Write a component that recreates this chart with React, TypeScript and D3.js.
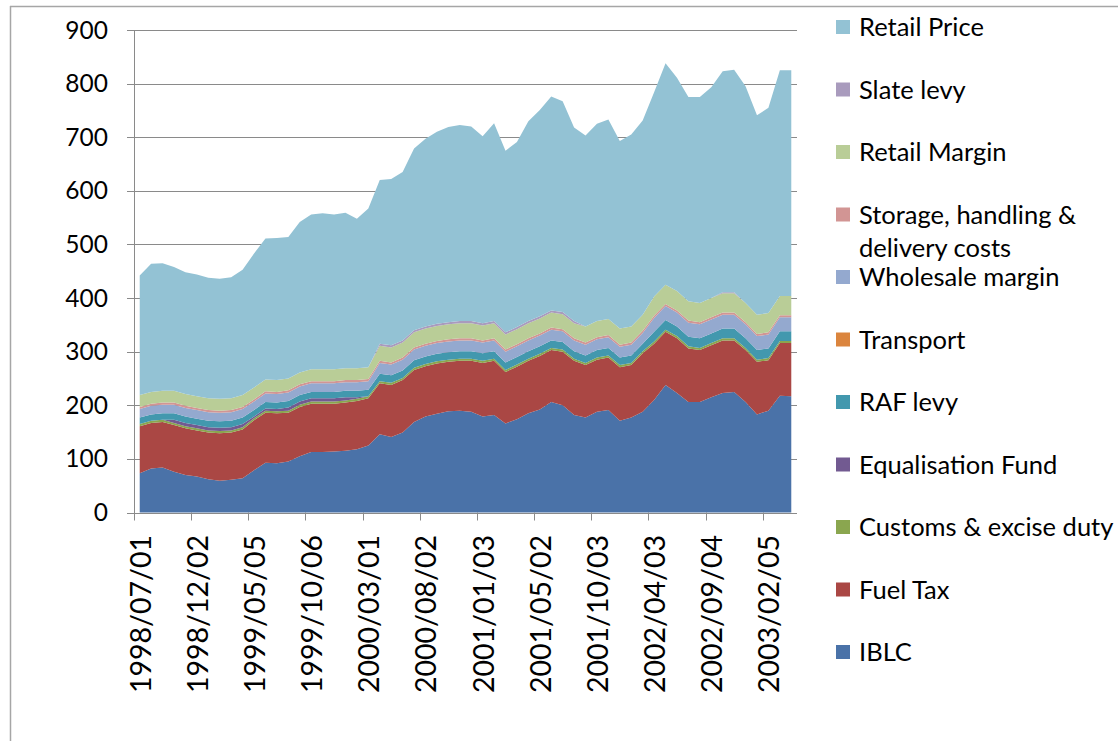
import React from 'react';
import * as d3 from 'd3';

const dates = [
  '1998/07/01','1998/08/05','1998/09/02','1998/10/07','1998/11/04','1998/12/02',
  '1999/01/06','1999/02/03','1999/03/03','1999/04/07','1999/05/05','1999/06/02','1999/07/07','1999/08/04','1999/09/01','1999/10/06','1999/11/03','1999/12/01',
  '2000/01/05','2000/02/02','2000/03/01','2000/04/05','2000/05/03','2000/06/07','2000/07/05','2000/08/02','2000/09/06','2000/10/04','2000/11/01','2000/12/06',
  '2001/01/03','2001/02/07','2001/03/07','2001/04/04','2001/04/18','2001/05/02','2001/06/06','2001/07/04','2001/08/01','2001/09/05','2001/10/03','2001/11/07','2001/12/05',
  '2002/01/02','2002/02/06','2002/04/03','2002/05/08','2002/06/05','2002/07/03','2002/08/07','2002/09/04','2002/10/02','2002/11/06','2002/12/04',
  '2003/01/08','2003/02/05','2003/03/05','2003/04/02',
];

const iblc = [73,82,84,76,70,67,62,59,61,64, 79,93,92,95,105,113,113,114,115,118, 125,146,141,149,169,179,184,189,190,188, 179,182,166,174,185,192,206,200,182,177, 188,191,171,177,188,210,238,223,206,206, 215,223,225,206,183,190,218,217];
const fuelTax = [88,85,85,87,87,86,87,89,88,91, 93,93,93,91,92,90,90,89,90,90, 88,95,97,98,97,94,94,92,93,95, 100,101,96,98,98,100,97,100,101,98, 97,98,100,98,109,105,99,102,100,97, 97,98,96,97,98,94,98,99];
const customs = [4,4,4,4,4,4,4,4,4,4, 4,4,4,4,4,4,4,4,4,4, 4,4,4,4,4,4,4,4,4,4, 4,4,4,4,4,4,4,4,4,4, 4,4,4,4,4,4,4,4,4,4, 4,4,4,4,4,4,4,4];
const equalisation = [0,0,0,6,6,6,6,6,6,6, 3,4,4,6,6,6,6,6,6,3, 0,0,0,0,0,0,0,0,0,0, 0,0,0,0,0,0,0,0,0,0, 0,0,0,0,0,0,0,0,0,0, 0,0,0,0,0,0,0,0];
const rafLevy = [12,12,12,12,12,12,12,12,12,12, 12,12,12,12,12,12,12,12,12,12, 12,14,14,14,14,14,14,14,14,14, 14,14,14,14,14,14,14,14,14,14, 14,14,14,14,14,18,18,18,18,18, 18,18,18,18,18,18,18,18];
const transport = [0,0,0,0,0,0,0,0,0,0, 0,0,0,0,0,0,0,0,0,0, 0,0,0,0,0,0,0,0,0,0, 0,0,0,0,0,0,0,0,0,0, 0,0,0,0,0,0,0,0,0,0, 0,0,0,0,0,0,0,0];
const wholesale = [16,16,16,16,16,16,16,16,16,16, 16,16,16,16,16,16,16,16,16,16, 16,20,20,20,20,20,20,20,20,20, 20,20,20,20,20,20,20,20,20,20, 20,20,20,20,20,26,26,26,26,26, 26,26,26,26,26,26,26,26];
const storage = [4,4,4,4,4,4,4,4,4,4, 4,4,4,4,4,4,4,4,4,4, 4,4,4,4,4,4,4,4,4,4, 4,4,4,4,4,4,4,4,4,4, 4,4,4,4,4,4,4,4,4,4, 4,4,4,4,4,4,4,4];
const retailMargin = [22,22,22,22,22,22,22,22,22,22, 22,22,22,22,22,22,22,22,22,22, 22,28,28,28,28,28,28,28,28,28, 28,28,28,28,28,28,28,28,28,30, 30,30,30,30,30,36,36,36,36,36, 36,36,36,36,36,36,36,36];
const slateLevy = [0,0,0,0,0,0,0,0,0,0, 0,0,0,0,0,0,0,0,0,0, 0,4,4,4,4,4,4,4,4,4, 4,4,4,4,4,4,4,4,4,0, 0,0,0,0,0,0,0,0,0,0, 0,2,2,0,0,0,0,0];
const retailPrice = [223,239,238,231,227,227,225,224,226,234, 250,263,265,264,281,289,291,289,290,279, 296,305,310,314,339,350,358,364,366,363, 349,369,339,345,373,385,399,393,361,356, 368,372,350,358,362,381,413,398,381,384, 393,412,415,404,372,383,421,421];

const seriesNames = ['IBLC','Fuel Tax','Customs & excise duty','Equalisation Fund','RAF levy','Transport','Wholesale margin','Storage, handling & delivery costs','Retail Margin','Slate levy','Retail Price'];
const seriesData = [iblc, fuelTax, customs, equalisation, rafLevy, transport, wholesale, storage, retailMargin, slateLevy, retailPrice];
const seriesColors = ['#4a72a8','#aa4744','#8aa64f','#725a91','#4298ae','#db853e','#94a9cf','#d29594','#b9cd97','#a99bbd','#93c2d4'];
const yTicks = [0,100,200,300,400,500,600,700,800,900];

export default function App() {
  const W = 1118, H = 741;
  const left = 134, right = 797, top = 30, bottom = 512.5;
  const x = d3.scaleBand<string>().domain(dates).range([left, right]).paddingInner(0).paddingOuter(0);
  const y = d3.scaleLinear().domain([0, 900]).range([bottom, top]);
  const cx = (d: string) => (x(d) as number) + x.bandwidth() / 2;

  const table = dates.map((d, i) => {
    const row: any = { date: d };
    seriesNames.forEach((n, k) => { row[n] = seriesData[k][i]; });
    return row;
  });
  const stacked = d3.stack<any>().keys(seriesNames)(table);
  const area = d3.area<any>()
    .x((p) => cx(p.data.date))
    .y0((p) => y(p[0]))
    .y1((p) => y(p[1]))
    .curve(d3.curveLinear);

  const font = 'Lato, "Open Sans", sans-serif';
  const axisColor = '#8a8a8a';
  const legendOrder = [...seriesNames].reverse();
  const legendY = (k: number) => 27 + 62.5 * k;

  return (
    <svg width={W} height={H} style={{ position: 'absolute', left: 0, top: 0, background: '#fff' }} fontFamily={font}>
      <rect x={0} y={0} width={W} height={H} fill="#fff" />
      <line x1={10} y1={6.5} x2={W} y2={6.5} stroke="#a6a6a6" strokeWidth={1.5} />
      <line x1={10.5} y1={6} x2={10.5} y2={H} stroke="#a6a6a6" strokeWidth={1.5} />
      {yTicks.map((t) => (
        <g key={t}>
          <line x1={left - 7} x2={right} y1={Math.round(y(t)) + 0.5} y2={Math.round(y(t)) + 0.5} stroke={axisColor} strokeWidth={1} />
          <text x={108} y={y(t) + 8.5} textAnchor="end" fontSize={24.5} fill="#000">{t}</text>
        </g>
      ))}
      {stacked.map((s, k) => (
        <path key={s.key} d={area(s) as string} fill={seriesColors[k]} stroke="none" />
      ))}
      <line x1={left + 0.5} x2={left + 0.5} y1={top} y2={bottom + 1} stroke={axisColor} strokeWidth={1} />
      <line x1={left - 7} x2={right} y1={Math.round(bottom) + 0.5} y2={Math.round(bottom) + 0.5} stroke={axisColor} strokeWidth={1} />
      {dates.map((d, i) => (i % 5 === 0 ? (
        <g key={d}>
          <line x1={Math.round(x(d) as number) + 0.5} x2={Math.round(x(d) as number) + 0.5} y1={bottom} y2={bottom + 8} stroke={axisColor} strokeWidth={1} />
          <text transform={`translate(${cx(d) + 11},${535}) rotate(-90)`} textAnchor="end" fontSize={28.5} fill="#000">{d}</text>
        </g>
      ) : null))}
      {legendOrder.map((name, k) => {
        const idx = seriesNames.indexOf(name);
        const ly = legendY(k);
        const lines = name === 'Storage, handling & delivery costs' ? ['Storage, handling &', 'delivery costs'] : [name];
        return (
          <g key={name}>
            <rect x={836} y={ly - 7} width={14} height={14} fill={seriesColors[idx]} />
            {lines.map((ln, j) => (
              <text key={j} x={859} y={ly + 9 + j * 33} fontSize={25.5} fill="#000">{ln}</text>
            ))}
          </g>
        );
      })}
    </svg>
  );
}
